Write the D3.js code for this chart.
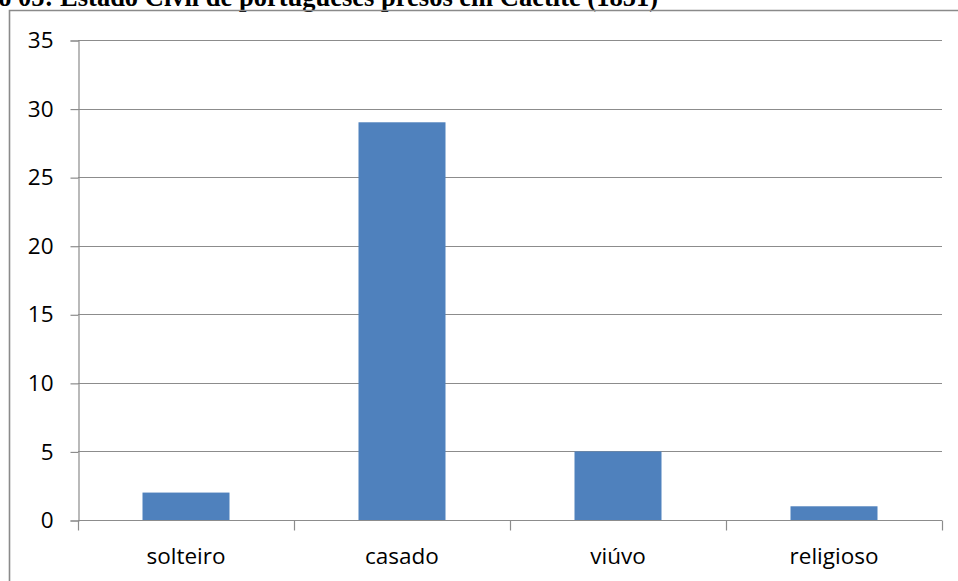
<!DOCTYPE html>
<html>
<head>
<meta charset="utf-8">
<script src="https://cdn.jsdelivr.net/npm/d3@7"></script>
<style>
  html, body { margin: 0; padding: 0; background: #fff; }
  svg { display: block; }
</style>
</head>
<body>
<svg id="chart" width="958" height="581"></svg>
<script>
// Estado civil dos presos portugueses em Caetité (1851)
const categories = ["solteiro", "casado", "viúvo", "religioso"];
const counts = [2, 29, 5, 1];
const yTicks = [0, 5, 10, 15, 20, 25, 30, 35];
const title = "Gráfico 05: Estado Civil de portugueses presos em Caetité (1851)";

const svg = d3.select("#chart");
const W = 958, H = 581;
const plot = { left: 78, right: 942, top: 40, bottom: 520 };

// Title, set in bold serif above the frame (runs past the page top and left edge)
svg.append("text")
  .attr("x", 658)
  .attr("y", 5.5)
  .attr("text-anchor", "end")
  .attr("font-family", "'Liberation Serif', 'Times New Roman', serif")
  .attr("font-weight", "bold")
  .attr("font-size", 26.5)
  .attr("fill", "#000")
  .text(title);

// Chart frame (top and left edges)
svg.append("path")
  .attr("d", `M9.5,${H} V10.5 H${W}`)
  .attr("fill", "none")
  .attr("stroke", "#8a8a8a")
  .attr("stroke-width", 1.6);

const x = d3.scaleBand()
  .domain(categories)
  .range([plot.left, plot.right])
  .paddingInner(0)
  .paddingOuter(0);

const y = d3.scaleLinear()
  .domain([0, 35])
  .range([plot.bottom, plot.top]);

const labelFont = "'Open Sans', 'DejaVu Sans', sans-serif";

// Horizontal gridlines
svg.append("g")
  .selectAll("line")
  .data(yTicks.filter(t => t > 0))
  .join("line")
  .attr("x1", plot.left)
  .attr("x2", plot.right)
  .attr("y1", d => Math.round(y(d)) + 0.5)
  .attr("y2", d => Math.round(y(d)) + 0.5)
  .attr("stroke", "#8c8c8c")
  .attr("stroke-width", 1.2);

// Y axis
const yAxis = svg.append("g")
  .attr("transform", `translate(${plot.left + 0.5},0.5)`)
  .call(d3.axisLeft(y).tickValues(yTicks).tickSize(8).tickPadding(17).tickFormat(d3.format("d")));
yAxis.selectAll("path, line").attr("stroke", "#8c8c8c").attr("stroke-width", 1.2);
yAxis.selectAll("text")
  .attr("font-family", labelFont)
  .attr("font-size", 22.5)
  .attr("fill", "#000");

// Bars
const barW = 87;
svg.append("g")
  .selectAll("rect")
  .data(categories.map((c, i) => ({ c, v: counts[i] })))
  .join("rect")
  .attr("x", d => x(d.c) + x.bandwidth() / 2 - barW / 2)
  .attr("y", d => y(d.v))
  .attr("width", barW)
  .attr("height", d => y(0) - y(d.v))
  .attr("fill", "#4f81bd");

// X axis with boundary ticks between categories
const xg = svg.append("g").attr("transform", `translate(0,${Math.round(y(0)) + 0.5})`);
xg.append("line")
  .attr("x1", plot.left).attr("x2", plot.right)
  .attr("stroke", "#8c8c8c").attr("stroke-width", 1.2);
const bounds = categories.map(c => x(c)).concat([plot.right]);
xg.selectAll("line.tick")
  .data(bounds)
  .join("line")
  .attr("class", "tick")
  .attr("x1", d => Math.round(d) + 0.5)
  .attr("x2", d => Math.round(d) + 0.5)
  .attr("y1", 0)
  .attr("y2", 10)
  .attr("stroke", "#8c8c8c")
  .attr("stroke-width", 1.2);
xg.selectAll("text")
  .data(categories)
  .join("text")
  .attr("x", d => x(d) + x.bandwidth() / 2)
  .attr("y", 43)
  .attr("text-anchor", "middle")
  .attr("font-family", labelFont)
  .attr("font-size", 22.5)
  .attr("fill", "#000")
  .text(d => d);
</script>
</body>
</html>
